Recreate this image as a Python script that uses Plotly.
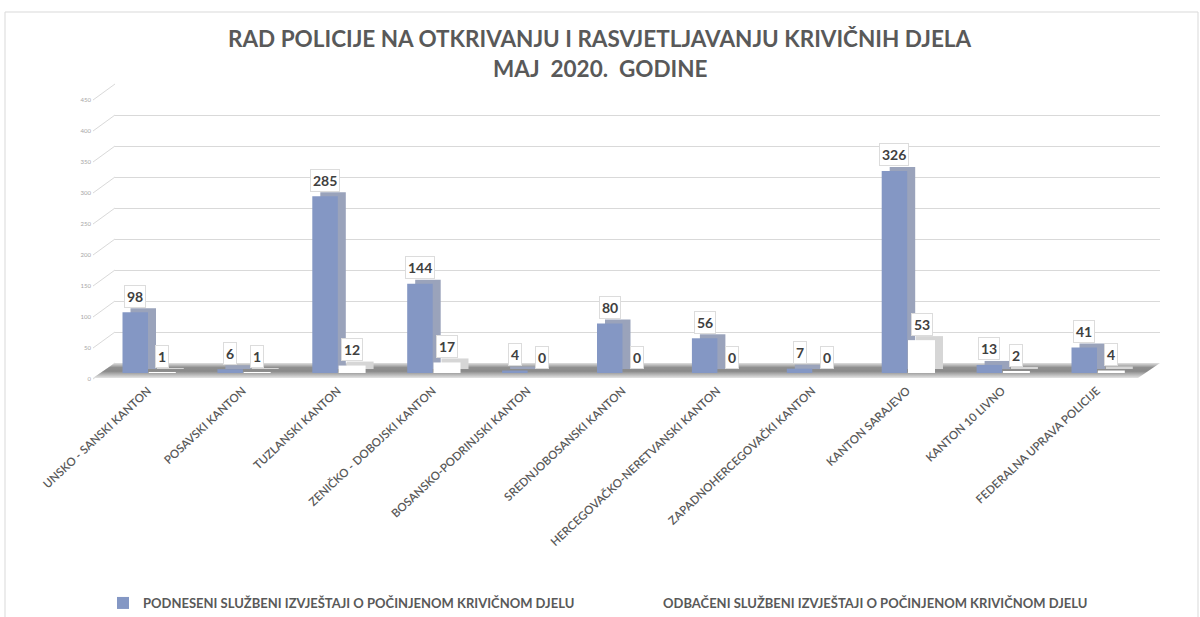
import plotly.graph_objects as go

# ---------------- data ----------------
categories = [
    "UNSKO - SANSKI KANTON",
    "POSAVSKI KANTON",
    "TUZLANSKI KANTON",
    "ZENIČKO - DOBOJSKI KANTON",
    "BOSANSKO-PODRINJSKI KANTON",
    "SREDNJOBOSANSKI KANTON",
    "HERCEGOVAČKO-NERETVANSKI KANTON",
    "ZAPADNOHERCEGOVAČKI KANTON",
    "KANTON SARAJEVO",
    "KANTON 10 LIVNO",
    "FEDERALNA UPRAVA POLICIJE",
]
podneseni = [98, 6, 285, 144, 4, 80, 56, 7, 326, 13, 41]
odbaceni = [1, 1, 12, 17, 0, 0, 0, 0, 53, 2, 4]
series_names = [
    "PODNESENI SLUŽBENI IZVJEŠTAJI O POČINJENOM KRIVIČNOM DJELU",
    "ODBAČENI SLUŽBENI IZVJEŠTAJI O POČINJENOM KRIVIČNOM DJELU",
]
y_ticks = [0, 50, 100, 150, 200, 250, 300, 350, 400, 450]
title_line1 = "RAD POLICIJE NA OTKRIVANJU I RASVJETLJAVANJU KRIVIČNIH DJELA"
title_line2 = "MAJ\u00a0\u00a02020.\u00a0\u00a0GODINE"

# ---------------- geometry (pixels) ----------------
W, H = 1200, 617
YMAX = 450
PXU = 0.62            # pixels per unit
BAR_Y0 = 373          # value 0 on bar front plane
LABEL_Y0 = 379        # value 0 for tick labels (front edge)
GRID_Y0 = 363         # value 0 on back wall
X_LEFT = 100.55
CAT_W = 94.9
N = len(categories)
DX, DY = 8, 4         # bar depth
FLOOR_L, FLOOR_R = 93, 1138
WALL_DX = 22

TXT = "#595959"
FONT = "Lato"


def fx(px):
    return px / W


def fy(px):
    return 1 - px / H


bw_blue = 25.5 / CAT_W
bw_white = 27 / CAT_W
off_white = 0.8 / CAT_W
ddx = DX / CAT_W
ddy = DY / PXU

fig = go.Figure()

# floor (decoration subplot in pixel space)
fig.add_trace(go.Scatter(
    x=[FLOOR_L, FLOOR_R, FLOOR_R + WALL_DX, FLOOR_L + WALL_DX, FLOOR_L],
    y=[378, 378, 363, 363, 378],
    mode="lines", line=dict(width=0), fill="toself",
    fillgradient=dict(type="vertical",
                      colorscale=[[0, "#e4e4e4"], [0.45, "#8a8a8a"], [0.7, "#8f8f8f"], [1, "#e0e0e0"]]),
    hoverinfo="skip", showlegend=False, xaxis="x", yaxis="y"))

# grid subplot dummy
fig.add_trace(go.Scatter(x=[None], y=[None], xaxis="x2", yaxis="y2",
                         showlegend=False, hoverinfo="skip"))
# tick label axis dummy
fig.add_trace(go.Scatter(x=[None], y=[None], xaxis="x2", yaxis="y4",
                         showlegend=False, hoverinfo="skip"))

# bars: depth faces first
fig.add_trace(go.Bar(x=categories, y=podneseni, base=[ddy] * N,
                     offset=-bw_blue + ddx, width=bw_blue,
                     marker=dict(color="#9aa3bb", line=dict(width=0)),
                     showlegend=False, hoverinfo="skip", xaxis="x3", yaxis="y3"))
fig.add_trace(go.Bar(x=categories, y=odbaceni, base=[ddy] * N,
                     offset=off_white + ddx, width=bw_white,
                     marker=dict(color="#d6d6d6", line=dict(width=0)),
                     showlegend=False, hoverinfo="skip", xaxis="x3", yaxis="y3"))
# front faces
fig.add_trace(go.Bar(x=categories, y=podneseni, name=series_names[0],
                     offset=-bw_blue, width=bw_blue,
                     marker=dict(color="#8497c4", line=dict(width=0)),
                     xaxis="x3", yaxis="y3"))
fig.add_trace(go.Bar(x=categories, y=odbaceni, name=series_names[1],
                     offset=off_white, width=bw_white,
                     marker=dict(color="#ffffff", line=dict(width=0)),
                     xaxis="x3", yaxis="y3"))

# data labels
annotations = []
for vals, xoff in ((podneseni, -bw_blue / 2), (odbaceni, off_white + bw_white / 2)):
    for i, v in enumerate(vals):
        annotations.append(dict(x=i + xoff, y=v, xref="x3", yref="y3", text=f"<b>{v}</b>",
                                showarrow=False, borderpad=2, yanchor="middle", yshift=16,
                                bgcolor="#ffffff", bordercolor="#dcdcdc", borderwidth=1,
                                font=dict(family=FONT, size=14, color="#404040")))

# titles
annotations.append(dict(x=0.5, y=fy(38), xref="paper", yref="paper", text=f"<b>{title_line1}</b>",
                        showarrow=False, font=dict(family=FONT, size=22.5, color=TXT), yanchor="middle"))
annotations.append(dict(x=0.5, y=fy(68), xref="paper", yref="paper", text=f"<b>{title_line2}</b>",
                        showarrow=False, font=dict(family=FONT, size=22.5, color=TXT), yanchor="middle"))

# wall connectors (depth lines from front edge to back wall)
shapes = []
for v in y_ticks:
    shapes.append(dict(type="line", xref="paper", yref="paper",
                       x0=fx(FLOOR_L), y0=fy(LABEL_Y0 - v * PXU),
                       x1=fx(FLOOR_L + WALL_DX), y1=fy(GRID_Y0 - v * PXU),
                       line=dict(color="#d9d9d9", width=1), layer="below"))
# chart border
shapes.append(dict(type="rect", xref="paper", yref="paper",
                   x0=fx(5), x1=fx(1198), y0=-0.02, y1=fy(12),
                   line=dict(color="#d9d9d9", width=1), layer="below"))

fig.update_layout(
    width=W, height=H, autosize=False,
    margin=dict(l=0, r=0, t=0, b=0, autoexpand=False),
    paper_bgcolor="white", plot_bgcolor="rgba(0,0,0,0)",
    barmode="overlay",
    font=dict(family=FONT, color=TXT),
    xaxis=dict(domain=[0, 1], range=[0, W], visible=False, fixedrange=True),
    yaxis=dict(domain=[0, 1], range=[H, 0], visible=False, fixedrange=True),
    xaxis2=dict(domain=[fx(FLOOR_L + WALL_DX), fx(FLOOR_R + WALL_DX)], range=[0, 1],
                visible=False, anchor="y2"),
    yaxis2=dict(domain=[fy(GRID_Y0), fy(GRID_Y0 - YMAX * PXU)], range=[0, YMAX],
                tickvals=y_ticks, showticklabels=False, showgrid=True,
                gridcolor="#d9d9d9", gridwidth=1, zeroline=False, showline=False,
                anchor="x2"),
    yaxis4=dict(domain=[fy(LABEL_Y0), fy(LABEL_Y0 - YMAX * PXU)], range=[0, YMAX],
                tickvals=y_ticks, ticktext=[str(t) for t in y_ticks],
                tickfont=dict(family=FONT, size=6, color="#a6a6a6"),
                showgrid=False, zeroline=False, showline=False, ticks="",
                anchor="free", position=fx(91)),
    xaxis3=dict(domain=[fx(X_LEFT), fx(X_LEFT + N * CAT_W)], range=[-0.5, N - 0.5],
                anchor="y3", tickangle=-43, showgrid=False, showline=False, ticks="",
                tickfont=dict(family=FONT, size=11.5, color=TXT, weight=600),
                ticklabelstandoff=8),
    yaxis3=dict(domain=[fy(BAR_Y0), fy(BAR_Y0 - YMAX * PXU)], range=[0, YMAX],
                visible=False, anchor="x3"),
    legend=dict(orientation="h", x=fx(103), y=fy(603), xanchor="left", yanchor="middle",
                font=dict(family=FONT, size=13, color=TXT, weight="bold"),
                itemwidth=30, entrywidth=475, entrywidthmode="pixels",
                bgcolor="rgba(0,0,0,0)"),
    annotations=annotations,
    shapes=shapes,
    showlegend=True,
)

fig.write_html("out.html", config={"displayModeBar": False},
               post_script="document.body.style.margin='0';")
